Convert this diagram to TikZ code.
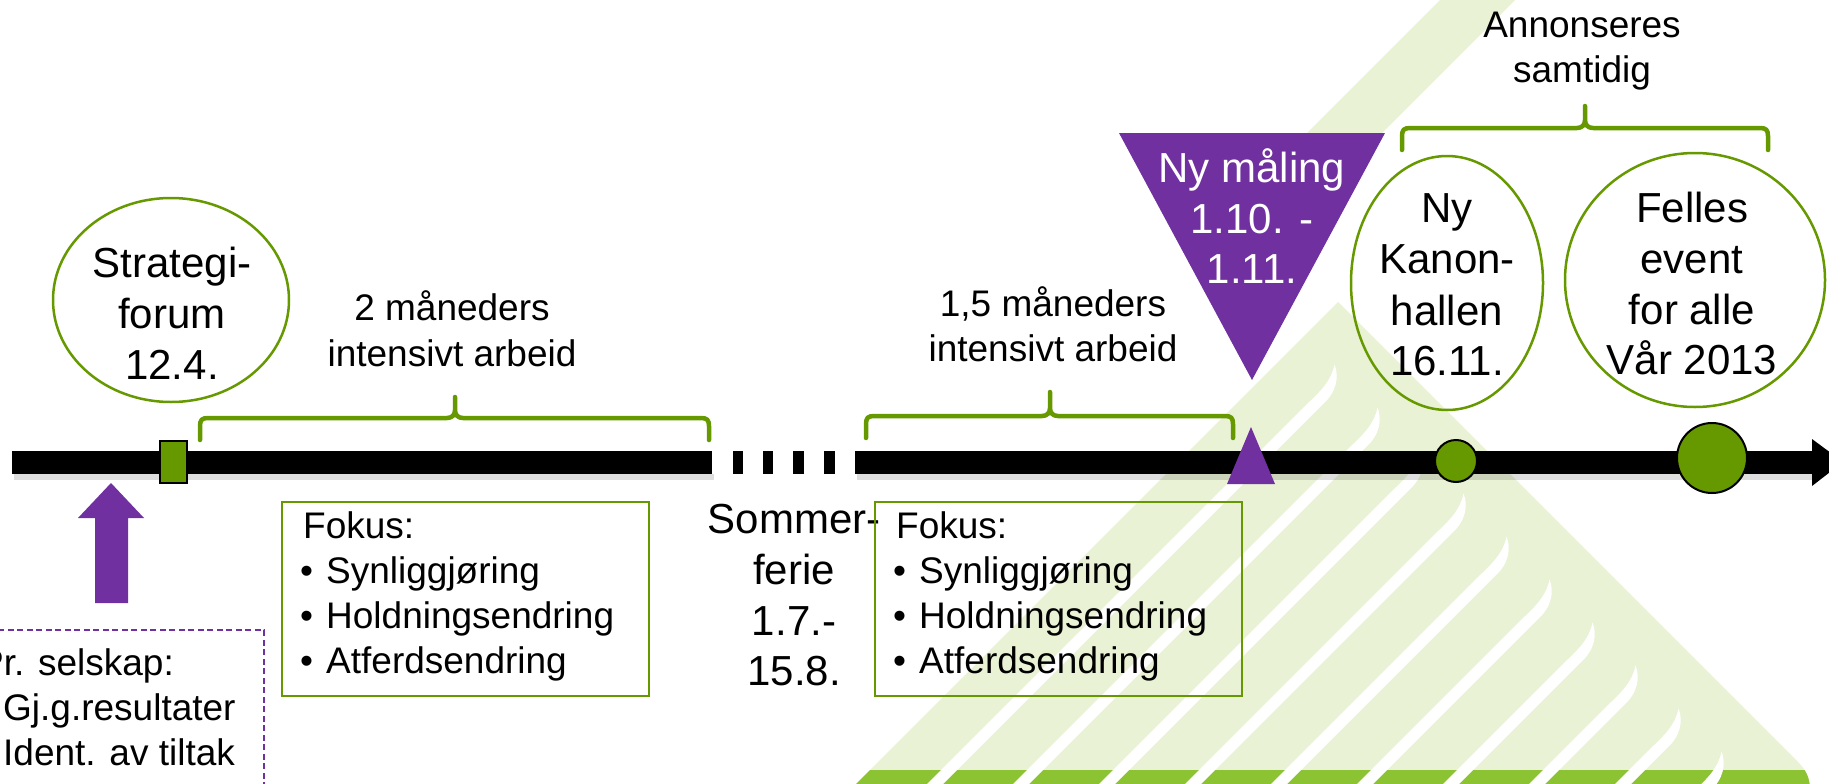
\documentclass[tikz,border=0pt]{standalone}
\usepackage{fontspec}
\setmainfont{Liberation Sans}
\usetikzlibrary{shapes.geometric}
\definecolor{gr}{RGB}{102,153,0}
\definecolor{pu}{RGB}{112,48,160}
\definecolor{pale}{RGB}{234,242,214}
\definecolor{bandgr}{RGB}{140,195,50}
\begin{document}
\begin{tikzpicture}[x=1pt,y=-1pt,
  big/.style={font=\fontsize{42}{50}\selectfont, anchor=base, inner sep=0pt},
  mid/.style={font=\fontsize{37}{45}\selectfont, anchor=base, inner sep=0pt},
  midw/.style={mid, anchor=base west},
  brc/.style={draw=gr, line width=4.5pt, line join=round, line cap=round},
  evt/.style={draw=gr, line width=2.5pt, ellipse, inner sep=0pt},
  fok/.style={draw=gr, line width=2pt, inner sep=0pt, anchor=north west},
  dotc/.style={circle, fill=gr, draw=black, line width=2pt, inner sep=0pt},
  shad/.style={fill=black, opacity=0.13}
]
\useasboundingbox (0,0) rectangle (1829,784);
\clip (0,0) rectangle (1829,784);
\fill[white] (0,0) rectangle (1829,784);

% ---- background logo ----
\fill[pale] (1440,0) -- (1515,0) -- (1275,240) -- (1200,240) -- cycle;
\fill[pale] (850,790) -- (1338,302) -- (1798,762) .. controls (1806,770) and (1810,778) .. (1810,790) -- cycle;
\begin{scope}
  \clip (850,790) -- (1338,302) -- (1798,762) .. controls (1806,770) and (1810,778) .. (1810,790) -- cycle;
  \fill[bandgr] (840,770) rectangle (1830,800);
\end{scope}
\foreach \k in {0,...,9}{
  \pgfmathsetmacro\sk{1719+86*\k}
  \pgfmathsetmacro\xI{(\sk+970)/2}
  \pgfmathsetmacro\yI{(\sk-970)/2}
  \fill[white] (\sk-8-795,795) -- (\xI-38,\yI+30)
     .. controls (\xI-24,\yI+17) and (\xI-13,\yI+6) .. (\xI-10,\yI-10)
     .. controls (\xI-5,\yI+2) and (\xI-8,\yI+18) .. (\xI-22,\yI+30)
     -- (\sk+8-795,795) -- cycle;
}

% ---- timeline bar ----
\fill[shad] (14,473.5) rectangle (714,480);
\fill[shad] (857,473.5) rectangle (1815,480);
\fill (12,450.5) rectangle (712,473.5);
\fill (733,450.5) rectangle (743,473.5);
\fill (763,450.5) rectangle (773,473.5);
\fill (793,450.5) rectangle (804,473.5);
\fill (824,450.5) rectangle (835,473.5);
\fill (855,450.5) rectangle (1813,473.5);
\fill (1812,439) -- (1843,462) -- (1812,486) -- cycle;

% ---- markers on the timeline ----
\filldraw[fill=gr, draw=black, line width=1.5pt] (160,441) rectangle (187,483);
\fill[pu] (1227,484) -- (1251,427) -- (1275,484) -- cycle;
\node[dotc, minimum size=42pt] (d1) at (1456,461) {};
\node[dotc, minimum size=70pt] (d2) at (1712,458) {};

% ---- purple up arrow ----
\fill[pu] (111,483) -- (144,518) -- (128,518) -- (128,603) -- (95,603) -- (95,518) -- (78,518) -- cycle;

% ---- braces ----
\draw[brc] (200,440) -- (200,426) .. controls (200,420) and (202,418) .. (208,418) -- (447,418)
  .. controls (452,418) and (455,415) .. (455,410) -- (455,397) -- (455,410)
  .. controls (455,415) and (458,418) .. (463,418) -- (701,418)
  .. controls (707,418) and (709,420) .. (709,426) -- (709,440);
\draw[brc] (866,438) -- (866,424) .. controls (866,418) and (868,416) .. (874,416) -- (1042,416)
  .. controls (1047,416) and (1050,413) .. (1050,408) -- (1050,392) -- (1050,408)
  .. controls (1050,413) and (1053,416) .. (1058,416) -- (1225,416)
  .. controls (1231,416) and (1233,418) .. (1233,424) -- (1233,438);
\draw[brc] (1402,150) -- (1402,136) .. controls (1402,130) and (1404,128) .. (1410,128) -- (1577,128)
  .. controls (1582,128) and (1585,125) .. (1585,120) -- (1585,106) -- (1585,120)
  .. controls (1585,125) and (1588,128) .. (1593,128) -- (1760,128)
  .. controls (1766,128) and (1768,130) .. (1768,136) -- (1768,150);

% ---- purple measurement triangle ----
\fill[pu] (1119,133) -- (1385,133) -- (1252,380) -- cycle;
\node[big, text=white] (m1) at (1252,182) {Ny måling};
\node[big, text=white] (m2) at (1252,233) {1.10. -};
\node[big, text=white] (m3) at (1252,283) {1.11.};

% ---- ellipses ----
\node[evt, minimum width=236pt, minimum height=204pt] (strat) at (171,300) {};
\node[big] (s1) at (172,277) {Strategi-};
\node[big] (s2) at (172,328) {forum};
\node[big] (s3) at (172,379) {12.4.};

\node[evt, minimum width=192pt, minimum height=254pt] (kanon) at (1447,283) {};
\node[big] (k1) at (1447,222) {Ny};
\node[big] (k2) at (1447,273) {Kanon-};
\node[big] (k3) at (1447,325) {hallen};
\node[big] (k4) at (1447,375) {16.11.};

\node[evt, minimum width=260pt, minimum height=254pt] (felles) at (1695,280) {};
\node[big] (e1) at (1692,222) {Felles};
\node[big] (e2) at (1692,273) {event};
\node[big] (e3) at (1692,324) {for alle};
\node[big] (e4) at (1692,374) {Vår 2013};

% ---- brace labels ----
\node[mid] (a1) at (452,320) {2 måneders};
\node[mid] (a2) at (452,366) {intensivt arbeid};
\node[mid] (b1) at (1053,316) {1,5 måneders};
\node[mid] (b2) at (1053,361) {intensivt arbeid};
\node[mid] (c1) at (1582,38) {Annonseres};
\node[mid] (c2) at (1582,82) {samtidig};

% ---- summer break ----
\node[big] (so1) at (794,533) {Sommer-};
\node[big] (so2) at (794,584) {ferie};
\node[big] (so3) at (794,635) {1.7.-};
\node[big] (so4) at (794,685) {15.8.};

% ---- focus boxes ----
\node[fok, minimum width=367pt, minimum height=194pt] (box1) at (281,501) {};
\node[midw] (p1) at (303,538) {Fokus:};
\node[midw] (p2b) at (300,583) {•};
\node[midw] (p2) at (326,583) {Synliggjøring};
\node[midw] (p3b) at (300,628) {•};
\node[midw] (p3) at (326,628) {Holdningsendring};
\node[midw] (p4b) at (300,673) {•};
\node[midw] (p4) at (326,673) {Atferdsendring};

\node[fok, minimum width=367pt, minimum height=194pt] (box2) at (874,501) {};
\node[midw] (q1) at (896,538) {Fokus:};
\node[midw] (q2b) at (893,583) {•};
\node[midw] (q2) at (919,583) {Synliggjøring};
\node[midw] (q3b) at (893,628) {•};
\node[midw] (q3) at (919,628) {Holdningsendring};
\node[midw] (q4b) at (893,673) {•};
\node[midw] (q4) at (919,673) {Atferdsendring};

% ---- per company box ----
\draw[pu, line width=1.5pt, dash pattern=on 6pt off 3.5pt] (-10,630) rectangle (264,800);
\node[midw] (r1) at (-21,675) {Pr. selskap:};
\node[midw] (r2) at (3,720) {Gj.g.resultater};
\node[midw] (r3) at (3,765) {Ident. av tiltak};
\end{tikzpicture}
\end{document}
